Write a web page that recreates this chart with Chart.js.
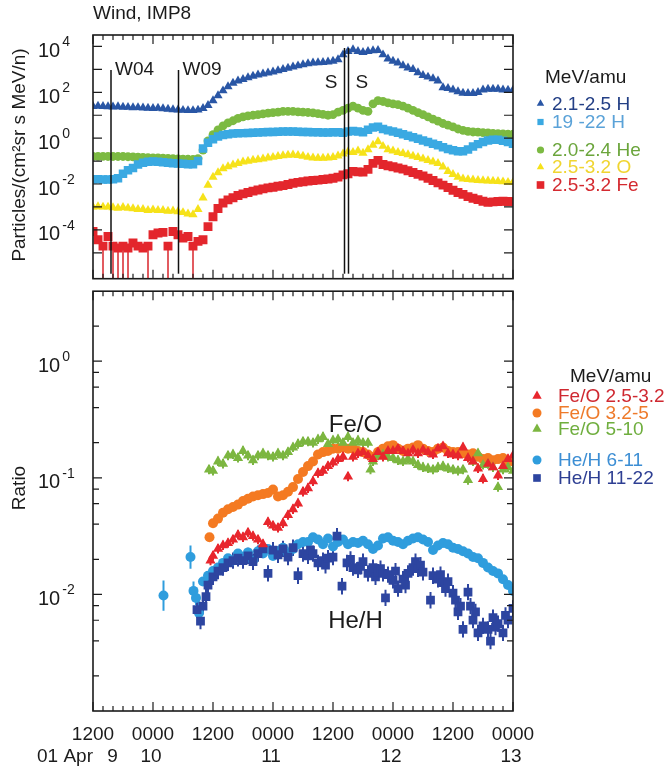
<!DOCTYPE html>
<html>
<head>
<meta charset="utf-8">
<script src="https://cdn.jsdelivr.net/npm/chart.js@4.4.1/dist/chart.umd.min.js"></script>
<style>
  body { margin: 0; background: #fff; }
  #wrap { position: relative; width: 670px; height: 770px; }
  #wrap canvas { position: absolute; left: 0; }
</style>
</head>
<body>
<div id="wrap">
  <canvas id="flux" width="670" height="285" style="top:0"></canvas>
  <canvas id="ratio" width="670" height="485" style="top:285px"></canvas>
</div>
<script>
// ---- values ----
// time axis: hours after 1200 UT, 9 Apr; fluxes and ratios kept as log10

var fluxHours = [0,1,2,3,4,5,6,7,8,9,10,11,12,13,14,15,16,17,18,19,20,21,22,23,24,25,26,27,28,29,
  30,31,32,33,34,35,36,37,38,39,40,41,42,43,44,45,46,47,48,49,50,51,52,53,54,55,56,57,58,59,
  60,61,62,63,64,65,66,67,68,69,70,71,72,73,74,75,76,77,78,79,80,81,82,83,84];

var hLowLog = [1.39,1.40,1.39,1.38,1.37,1.38,1.36,1.35,1.33,1.34,
  1.32,1.31,1.30,1.31,1.29,1.27,1.25,1.24,1.22,1.21,
  1.21,1.23,1.30,1.43,1.64,1.86,2.07,2.25,2.40,2.50,
  2.57,2.64,2.71,2.76,2.81,2.85,2.89,2.95,3.00,3.06,
  3.11,3.16,3.21,3.25,3.29,3.30,3.31,3.33,3.36,3.43,
  3.64,3.79,3.86,3.79,3.74,3.79,3.82,3.83,3.64,3.46,
  3.36,3.29,3.17,3.07,3.00,2.86,2.74,2.67,2.60,2.50,
  2.21,2.17,2.11,2.03,1.97,1.96,1.96,2.00,2.11,2.14,
  2.14,2.14,2.11,2.10,2.10];

var hHighLog = [-1.79,-1.79,-1.80,-1.80,-1.79,-1.75,-1.55,-1.40,-1.30,-1.15,
  -1.07,-1.03,-1.02,-1.03,-1.05,-1.07,-1.09,-1.10,-1.12,-1.14,
  -1.14,-1.00,-0.45,-0.20,-0.05,0.07,0.14,0.17,0.20,0.21,
  0.22,0.23,0.24,0.25,0.26,0.27,0.27,0.28,0.29,0.29,
  0.29,0.28,0.27,0.27,0.26,0.26,0.25,0.25,0.26,0.26,
  0.24,0.29,0.31,0.29,0.26,0.37,0.47,0.50,0.40,0.34,
  0.29,0.24,0.17,0.11,0.04,-0.03,-0.10,-0.17,-0.24,-0.31,
  -0.40,-0.47,-0.53,-0.57,-0.57,-0.49,-0.36,-0.26,-0.17,-0.10,
  -0.07,-0.07,-0.11,-0.17,-0.24];

var heLog = [-0.79,-0.79,-0.79,-0.80,-0.80,-0.80,-0.80,-0.81,-0.82,-0.83,
  -0.84,-0.85,-0.86,-0.86,-0.87,-0.88,-0.89,-0.90,-0.91,-0.92,
  -0.93,-0.89,-0.52,-0.12,0.15,0.36,0.54,0.67,0.76,0.86,
  0.93,0.97,1.00,1.03,1.06,1.09,1.11,1.14,1.17,1.17,
  1.17,1.15,1.14,1.12,1.10,1.07,1.04,1.00,1.03,1.14,
  1.21,1.31,1.40,1.31,1.21,1.17,1.50,1.64,1.60,1.54,
  1.50,1.46,1.40,1.31,1.21,1.11,1.03,0.93,0.83,0.74,
  0.64,0.57,0.49,0.40,0.34,0.30,0.27,0.26,0.24,0.23,
  0.21,0.20,0.19,0.17,0.17];

var oLog = [-3.00,-2.98,-3.00,-3.00,-3.03,-3.05,-3.02,-3.05,-3.07,-3.10,
  -3.10,-3.15,-3.12,-3.15,-3.15,-3.18,-3.17,-3.20,-3.24,-3.30,
  -3.33,-3.10,-2.60,-2.05,-1.70,-1.50,-1.33,-1.24,-1.16,-1.10,
  -1.03,-1.00,-0.96,-0.93,-0.90,-0.86,-0.83,-0.79,-0.76,-0.74,
  -0.73,-0.75,-0.78,-0.83,-0.86,-0.87,-0.87,-0.86,-0.84,-0.77,
  -0.68,-0.60,-0.62,-0.55,-0.65,-0.50,-0.30,-0.15,-0.35,-0.50,
  -0.55,-0.62,-0.66,-0.72,-0.78,-0.84,-0.90,-0.97,-1.03,-1.10,
  -1.25,-1.45,-1.58,-1.70,-1.77,-1.80,-1.82,-1.84,-1.85,-1.86,
  -1.87,-1.88,-1.90,-1.92,-1.93];

var feLog = [-4.07,-4.43,-4.71,-4.29,-4.71,-4.79,-4.71,-4.79,-4.57,-4.71,
  -4.79,-4.71,-4.21,-4.14,-4.11,-4.71,-4.07,-4.21,-4.36,-4.29,
  -4.71,-4.50,-4.43,-3.86,-3.43,-3.07,-2.83,-2.69,-2.60,-2.50,
  -2.43,-2.37,-2.31,-2.26,-2.21,-2.17,-2.14,-2.10,-2.07,-2.02,
  -1.97,-1.93,-1.90,-1.87,-1.85,-1.83,-1.80,-1.78,-1.75,-1.70,
  -1.60,-1.55,-1.45,-1.47,-1.48,-1.36,-1.10,-0.97,-1.15,-1.20,
  -1.25,-1.30,-1.35,-1.42,-1.50,-1.58,-1.65,-1.75,-1.85,-1.95,
  -2.05,-2.15,-2.27,-2.37,-2.45,-2.55,-2.62,-2.68,-2.75,-2.80,
  -2.78,-2.76,-2.75,-2.76,-2.77];

// Fe samples whose lower error bar runs off the bottom of the panel
var feOffscaleIdx = [2, 4, 5, 6, 7, 11, 15, 20];

var feO25Hours = [23.5,24,25,26,27,28,29,30,31,32,33,34,35,36,37,38,39,40,41,42,43,44,45,46,47,48,49,50,51,52,53,
  54,55,56,57,58,59,60,61,62,63,64,65,66,67,68,69,70,71,72,73,74,75,76,77,78,79,80,81,82,83,84];
var feO25Log = [-1.71,
  -1.67,-1.61,-1.58,-1.56,-1.53,-1.49,-1.51,-1.47,-1.50,-1.53,
  -1.57,-1.38,-1.41,-1.43,-1.39,-1.32,-1.27,-1.22,-1.12,-1.09,
  -1.03,-0.96,-0.94,-0.90,-0.87,-0.84,-0.82,-0.99,-0.82,-0.79,
  -0.78,-0.81,-0.84,-0.78,-0.82,-0.77,-0.77,-0.75,-0.77,-0.79,
  -0.76,-0.79,-0.76,-0.78,-0.80,-0.75,-0.73,-0.79,-0.80,-0.81,
  -0.74,-0.83,-0.86,-0.92,-1.01,-0.88,-0.91,-0.98,-0.90,-0.84,
  -0.81];

var feO32Hours = [23.3,24,25,26,27,28,29,30,31,32,33,34,35,36,37,38,39,40,41,42,43,44,45,46,47,48,49,50,51,52,53,
  54,55,56,57,58,59,60,61,62,63,64,65,66,67,68,69,70,71,72,73,74,75,76,77,78,79,80,81,82,83,84];
var feO32Log = [-1.51,
  -1.39,-1.35,-1.30,-1.27,-1.25,-1.23,-1.20,-1.18,-1.16,-1.15,
  -1.14,-1.13,-1.10,-1.16,-1.15,-1.12,-1.08,-1.01,-0.95,-0.90,
  -0.86,-0.80,-0.78,-0.77,-0.75,-0.75,-0.74,-0.75,-0.75,-0.77,
  -0.78,-0.80,-0.82,-0.78,-0.75,-0.73,-0.72,-0.75,-0.77,-0.75,
  -0.74,-0.72,-0.75,-0.77,-0.78,-0.75,-0.74,-0.77,-0.78,-0.78,
  -0.79,-0.80,-0.79,-0.82,-0.84,-0.83,-0.85,-0.84,-0.83,-0.86,
  -0.86];

var feO510Hours = [23.2,24,25,26,27,28,29,30,31,32,33,34,35,36,37,38,39,40,41,42,43,44,45,46,47,48,49,50,51,52,53,
  54,55,55.5,56,57,58,59,60,61,62,63,64,65,66,67,68,69,70,71,72,73,74,75,76,77,78,79,80,81,82,83,84];
var feO510Log = [-0.93,
  -0.94,-0.86,-0.88,-0.81,-0.80,-0.83,-0.77,-0.81,-0.85,-0.81,
  -0.79,-0.81,-0.82,-0.79,-0.81,-0.78,-0.74,-0.71,-0.69,-0.69,
  -0.70,-0.67,-0.65,-0.71,-0.68,-0.67,-0.70,-0.65,-0.70,-0.68,
  -0.70,-0.70,
  -0.93,
  -0.86,-0.81,-0.80,-0.82,-0.83,-0.85,-0.86,-0.84,-0.86,-0.89,
  -0.91,-0.92,-0.93,-0.91,-0.90,-0.92,-0.93,-0.94,-0.93,-1.02,
  -0.86,-0.79,-0.89,-0.88,-0.91,-1.08,-0.93,-0.91,-0.94];

var heH611Hours = [14.1,19.5,20.1,20.6,21.2,22,23,24,25,26,27,28,29,30,31,32,33,34,35,36,37,38,39,40,41,
  42,43,44,45,46,47,48,49,50,51,52,53,54,55,56,57,58,59,60,61,62,63,64,65,66,67,68,69,70,71,
  72,73,74,75,76,77,78,79,80,81,82,83,84];
var heH611Log = [-2.01,-1.68,-1.97,-2.03,-2.16,
  -1.89,-1.84,-1.80,-1.77,-1.73,-1.69,-1.71,-1.65,-1.68,-1.64,
  -1.71,-1.63,-1.65,-1.61,-1.67,-1.63,-1.60,-1.65,-1.61,-1.57,
  -1.55,-1.55,-1.51,-1.53,-1.57,-1.52,-1.59,-1.55,-1.53,-1.57,
  -1.55,-1.56,-1.54,-1.57,-1.61,-1.58,-1.52,-1.51,-1.54,-1.55,
  -1.57,-1.54,-1.52,-1.51,-1.53,-1.55,-1.62,-1.58,-1.56,-1.57,
  -1.60,-1.61,-1.63,-1.65,-1.68,-1.69,-1.73,-1.77,-1.80,-1.82,
  -1.87,-1.92,-1.97];
var heH611Err = [0.13, 0.10, 0.08, 0.06, 0.10];

var heH1122Hours = [20.8,21.5,22,22.6,23,24,25,26,27,28,29,30,31,32,33,34,35,36,37,38,39,40,41,42,43,43.5,
  44,45,46,46.5,47,48,48.8,49.8,50.8,51.5,52,53,53.5,54,55,56,56.5,57,57.5,58,58.5,59,60,60.5,61,62,62.5,
  63,64,64.5,65,65.5,66,67.5,68,69,69.5,70,70.5,71,72,72.5,73,73.5,74,75,75.5,76,76.5,77,78,79,79.5,
  80,80.5,81,82,82.5,83,84];
var heH1122Log = [-2.13,-2.23,-2.10,-2.02,-1.92,-1.85,-1.80,-1.77,-1.73,-1.71,-1.69,-1.71,-1.67,-1.72,-1.65,
  -1.61,-1.82,-1.62,-1.66,-1.61,-1.68,-1.60,-1.84,-1.65,-1.67,-1.62,
  -1.65,-1.73,-1.71,-1.75,-1.69,-1.68,-1.50,-1.93,-1.73,-1.70,-1.77,-1.79,-1.76,-1.72,-1.82,-1.77,-1.85,
  -1.81,-1.78,-1.82,-2.03,-1.83,-1.88,-1.80,-1.95,-1.87,-1.92,
  -1.82,-1.77,-1.72,-1.78,-1.75,-1.81,-2.05,-1.84,-1.87,-1.83,-1.90,-1.95,-1.89,-1.99,-2.05,-2.15,-2.10,
  -2.30,-1.98,-2.10,-2.22,-2.15,-2.33,-2.27,-2.30,-2.40,
  -2.20,-2.28,-2.25,-2.33,-2.18,-2.22,-2.12];

// typical log10 half-width of the ratio error bars, per series
var ratioErrDefault = [0.04, 0.02, 0.04, 0.025, 0.07];

var eventHours = [3.6, 17.1, 50.3, 51.1];
var eventNames = ['W04', 'W09', 'S', 'S'];

var fluxTickExps = [4, 2, 0, -2, -4];
var ratioTickExps = [0, -1, -2];

var timeTickHours = [0, 12, 24, 36, 48, 60, 72, 84];
var timeTickLabels = ['1200', '0000', '1200', '0000', '1200', '0000', '1200', '0000'];
var dayLabelHours = [4.3, 12, 36, 60, 84];
var dayLabels = ['9', '10', '11', '12', '13'];
var monthLabel = '01 Apr';

var fluxLabels = ['2.1-2.5 H', '19 -22 H', '2.0-2.4 He', '2.5-3.2 O', '2.5-3.2 Fe'];
var ratioLabels = ['Fe/O 2.5-3.2', 'Fe/O 3.2-5', 'Fe/O 5-10', 'He/H 6-11', 'He/H 11-22'];

var ratioNoteText = ['Fe/O', 'He/H'];
var ratioNoteHours = [52.5, 52.5];
var ratioNoteLog = [-0.55, -2.23];

// ---- drawing ----
var FONT = '"Liberation Sans", Arial, Helvetica, sans-serif';
var INK = '#1b1b1b';

function toPoints(hours, logs) {
    var pts = [];
    for (var i = 0; i < hours.length; i++) {
        if (logs[i] === null) continue;
        pts.push({x: hours[i], y: Math.pow(10, logs[i])});
    }
    return pts;
}

function series(label, hours, logs, color, style, radius) {
    return {
        label: label,
        data: toPoints(hours, logs),
        showLine: false,
        pointStyle: style,
        pointRadius: radius,
        pointHoverRadius: radius,
        pointBorderWidth: 0,
        backgroundColor: color,
        borderColor: color
    };
}

function marker(ctx, style, x, y, r, color) {
    ctx.fillStyle = color;
    ctx.beginPath();
    if (style === 'circle') {
        ctx.arc(x, y, r, 0, Math.PI * 2);
    } else if (style === 'rect') {
        var s = r * Math.SQRT1_2;
        ctx.rect(x - s, y - s, 2 * s, 2 * s);
    } else {
        for (var k = 0; k < 3; k++) {
            var ang = k * 2 * Math.PI / 3;
            var px = x + Math.sin(ang) * r, py = y - Math.cos(ang) * r;
            if (k === 0) ctx.moveTo(px, py); else ctx.lineTo(px, py);
        }
        ctx.closePath();
    }
    ctx.fill();
}

function drawFrame(chart, minorMult) {
    var ctx = chart.ctx, a = chart.chartArea;
    var xs = chart.scales.x, ys = chart.scales.y;
    ctx.save();
    ctx.strokeStyle = INK;
    ctx.lineWidth = 1.2;
    ctx.beginPath();
    for (var h = 0; h <= 84; h += 2) {
        var px = xs.getPixelForValue(h);
        var len = (h % 12 === 0) ? 9 : 5;
        ctx.moveTo(px, a.bottom); ctx.lineTo(px, a.bottom - len);
        ctx.moveTo(px, a.top); ctx.lineTo(px, a.top + len);
    }
    var lo = Math.floor(Math.log10(ys.min)), hi = Math.ceil(Math.log10(ys.max));
    for (var d = lo; d <= hi; d++) {
        for (var m = 1; m < 10; m++) {
            if (m > 1 && minorMult.indexOf(m) < 0) continue;
            var py = ys.getPixelForValue(m * Math.pow(10, d));
            if (py > a.bottom - 3 || py < a.top + 3) continue;
            var tl = (m === 1) ? 9 : 6;
            ctx.moveTo(a.left, py); ctx.lineTo(a.left + tl, py);
            ctx.moveTo(a.right, py); ctx.lineTo(a.right - tl, py);
        }
    }
    ctx.stroke();
    ctx.lineWidth = 1.6;
    ctx.strokeRect(a.left, a.top, a.right - a.left, a.bottom - a.top);
    ctx.restore();
}

function drawDecadeLabels(chart, exps) {
    var ctx = chart.ctx, a = chart.chartArea, ys = chart.scales.y;
    ctx.save();
    ctx.fillStyle = INK;
    ctx.textAlign = 'left';
    ctx.textBaseline = 'middle';
    exps.forEach(function(e) {
        var py = ys.getPixelForValue(Math.pow(10, e));
        ctx.font = '20px ' + FONT;
        ctx.fillText('10', a.left - 55, py + 5);
        var w = ctx.measureText('10').width;
        ctx.font = '14px ' + FONT;
        ctx.fillText(String(e), a.left - 55 + w + 2, py - 4);
    });
    ctx.restore();
}

function drawAxisTitle(ctx, text, x, y) {
    ctx.save();
    ctx.translate(x, y);
    ctx.rotate(-Math.PI / 2);
    ctx.fillStyle = INK;
    ctx.font = '19px ' + FONT;
    ctx.textAlign = 'center';
    ctx.textBaseline = 'middle';
    ctx.fillText(text, 0, 0);
    ctx.restore();
}

function drawLegend(chart, title, titleX, titleY, rows) {
    var ctx = chart.ctx;
    ctx.save();
    ctx.textBaseline = 'middle';
    ctx.textAlign = 'left';
    ctx.font = '19px ' + FONT;
    ctx.fillStyle = INK;
    ctx.fillText(title, titleX, titleY);
    rows.forEach(function(r) {
        var ds = chart.data.datasets[r.ds];
        marker(ctx, ds.pointStyle, r.mx, r.y, r.r, ds.backgroundColor);
        ctx.fillStyle = r.color;
        ctx.font = '19px ' + FONT;
        ctx.fillText(ds.label, r.tx, r.y + 1);
    });
    ctx.restore();
}

// ---- top panel: particle fluxes ----
var fluxColors = ['#2956a5', '#3aa9e2', '#7cba42', '#f6e21a', '#e3262c'];

var fluxDecor = {
    id: 'fluxDecor',
    beforeDatasetsDraw: function(chart) {
        var ctx = chart.ctx, a = chart.chartArea, xs = chart.scales.x, ys = chart.scales.y;
        ctx.save();
        ctx.strokeStyle = '#d9262c';
        ctx.lineWidth = 1.5;
        ctx.beginPath();
        feOffscaleIdx.forEach(function(i) {
            var px = xs.getPixelForValue(fluxHours[i]);
            ctx.moveTo(px, ys.getPixelForValue(Math.pow(10, feLog[i])));
            ctx.lineTo(px, a.bottom);
        });
        ctx.stroke();
        ctx.restore();
    },
    afterDatasetsDraw: function(chart) {
        var ctx = chart.ctx, a = chart.chartArea, xs = chart.scales.x;
        var labelSide = ['right', 'right', 'left', 'right'];
        ctx.save();
        ctx.strokeStyle = '#111';
        ctx.lineWidth = 1.5;
        ctx.fillStyle = INK;
        ctx.font = '19px ' + FONT;
        ctx.textBaseline = 'middle';
        eventHours.forEach(function(h, i) {
            var px = xs.getPixelForValue(h);
            var shock = eventNames[i] === 'S';
            var top = shock ? a.top + 13 : a.top + 35;
            ctx.beginPath();
            ctx.moveTo(px, top);
            ctx.lineTo(px, a.bottom - 5);
            ctx.stroke();
            var ly = shock ? a.top + 48 : a.top + 35;
            if (labelSide[i] === 'left') {
                ctx.textAlign = 'right';
                ctx.fillText(eventNames[i], px - 7, ly);
            } else {
                ctx.textAlign = 'left';
                ctx.fillText(eventNames[i], px + (shock ? 7 : 4), ly);
            }
        });
        ctx.restore();
    },
    afterDraw: function(chart) {
        var ctx = chart.ctx, a = chart.chartArea;
        drawFrame(chart, []);
        drawDecadeLabels(chart, fluxTickExps);
        drawAxisTitle(ctx, 'Particles/(cm\u00b2sr s MeV/n)', 20, 155);
        ctx.save();
        ctx.fillStyle = INK;
        ctx.font = '19px ' + FONT;
        ctx.textAlign = 'left';
        ctx.textBaseline = 'middle';
        ctx.fillText('Wind, IMP8', a.left, 14);
        ctx.restore();
        drawLegend(chart, 'MeV/amu', 545, 78, [
            {ds: 0, mx: 540.5, tx: 552, y: 103.5, r: 4.3, color: '#233f85'},
            {ds: 1, mx: 540.5, tx: 552, y: 122, r: 4.4, color: '#5aa2d8'},
            {ds: 2, mx: 540.5, tx: 552, y: 150, r: 3.6, color: '#6ba53c'},
            {ds: 3, mx: 540.5, tx: 552, y: 167, r: 4.3, color: '#f0d530'},
            {ds: 4, mx: 540.5, tx: 552, y: 185, r: 5.4, color: '#d42a30'}
        ]);
    }
};

new Chart(document.getElementById('flux'), {
    type: 'scatter',
    data: {
        datasets: [
            series(fluxLabels[0], fluxHours, hLowLog, fluxColors[0], 'triangle', 5.3),
            series(fluxLabels[1], fluxHours, hHighLog, fluxColors[1], 'rect', 6),
            series(fluxLabels[2], fluxHours, heLog, fluxColors[2], 'circle', 4.4),
            series(fluxLabels[3], fluxHours, oLog, fluxColors[3], 'triangle', 5.3),
            series(fluxLabels[4], fluxHours, feLog, fluxColors[4], 'rect', 6.3)
        ]
    },
    options: {
        responsive: false,
        animation: false,
        layout: {padding: {left: 93, right: 157, top: 35, bottom: 2}},
        plugins: {legend: {display: false}, tooltip: {enabled: false}},
        scales: {
            x: {type: 'linear', min: 0, max: 84, display: false},
            y: {type: 'logarithmic', min: Math.pow(10, -6.13), max: Math.pow(10, 4.5), display: false}
        }
    },
    plugins: [fluxDecor]
});

// ---- bottom panel: abundance ratios ----
var ratioColors = ['#e8262d', '#f47a22', '#7cb640', '#2f9ddd', '#2d45a0'];

var ratioSets = [
    series(ratioLabels[0], feO25Hours, feO25Log, ratioColors[0], 'triangle', 5.9),
    series(ratioLabels[1], feO32Hours, feO32Log, ratioColors[1], 'circle', 5),
    series(ratioLabels[2], feO510Hours, feO510Log, ratioColors[2], 'triangle', 5.9),
    series(ratioLabels[3], heH611Hours, heH611Log, ratioColors[3], 'circle', 5),
    series(ratioLabels[4], heH1122Hours, heH1122Log, ratioColors[4], 'rect', 6.2)
];
ratioSets[0].order = 0;
ratioSets[2].order = 1;
ratioSets[1].order = 2;
ratioSets[4].order = 3;
ratioSets[3].order = 4;
ratioSets.forEach(function(ds, i) { ds.errDefault = ratioErrDefault[i]; });
ratioSets[3].errLog = heH611Err;

var ratioDecor = {
    id: 'ratioDecor',
    beforeDatasetsDraw: function(chart) {
        var ctx = chart.ctx, a = chart.chartArea, xs = chart.scales.x, ys = chart.scales.y;
        ctx.save();
        ctx.beginPath();
        ctx.rect(a.left, a.top, a.right - a.left, a.bottom - a.top);
        ctx.clip();
        ctx.lineWidth = 2;
        chart.data.datasets.forEach(function(ds) {
            ctx.strokeStyle = ds.backgroundColor;
            ctx.beginPath();
            ds.data.forEach(function(p, j) {
                var e = (ds.errLog && ds.errLog[j] != null) ? ds.errLog[j] : ds.errDefault;
                var f = Math.pow(10, e);
                var px = xs.getPixelForValue(p.x);
                ctx.moveTo(px, ys.getPixelForValue(p.y * f));
                ctx.lineTo(px, ys.getPixelForValue(p.y / f));
            });
            ctx.stroke();
        });
        ctx.restore();
    },
    afterDraw: function(chart) {
        var ctx = chart.ctx, a = chart.chartArea, xs = chart.scales.x, ys = chart.scales.y;
        drawFrame(chart, [2, 4, 6, 8]);
        drawDecadeLabels(chart, ratioTickExps);
        drawAxisTitle(ctx, 'Ratio', 20, 203);

        ctx.save();
        ctx.fillStyle = INK;
        ctx.textBaseline = 'middle';
        ctx.textAlign = 'center';
        ctx.font = '24px ' + FONT;
        ratioNoteText.forEach(function(t, i) {
            ctx.fillText(t, xs.getPixelForValue(ratioNoteHours[i]), ys.getPixelForValue(Math.pow(10, ratioNoteLog[i])));
        });
        ctx.font = '19px ' + FONT;
        timeTickHours.forEach(function(h, i) {
            ctx.fillText(timeTickLabels[i], xs.getPixelForValue(h), a.bottom + 24);
        });
        dayLabelHours.forEach(function(h, i) {
            ctx.fillText(dayLabels[i], xs.getPixelForValue(h) - 2, a.bottom + 46);
        });
        ctx.textAlign = 'left';
        ctx.fillText(monthLabel, a.left - 56, a.bottom + 46);
        ctx.restore();

        drawLegend(chart, 'MeV/amu', 570, 92, [
            {ds: 0, mx: 537, tx: 558, y: 111, r: 5.4, color: '#cf2830'},
            {ds: 1, mx: 537, tx: 558, y: 128, r: 4.5, color: '#ee7a2a'},
            {ds: 2, mx: 537, tx: 558, y: 144, r: 5.4, color: '#6fae3e'},
            {ds: 3, mx: 537, tx: 558, y: 175, r: 4.5, color: '#3c8ed4'},
            {ds: 4, mx: 537, tx: 558, y: 193, r: 5.4, color: '#2e3f93'}
        ]);
    }
};

new Chart(document.getElementById('ratio'), {
    type: 'scatter',
    data: {datasets: ratioSets},
    options: {
        responsive: false,
        animation: false,
        layout: {padding: {left: 93, right: 157, top: 2, bottom: 59}},
        plugins: {legend: {display: false}, tooltip: {enabled: false}},
        scales: {
            x: {type: 'linear', min: 0, max: 84, display: false},
            y: {type: 'logarithmic', min: 0.001, max: Math.pow(10, 0.6), display: false}
        }
    },
    plugins: [ratioDecor]
});
</script>
</body>
</html>
